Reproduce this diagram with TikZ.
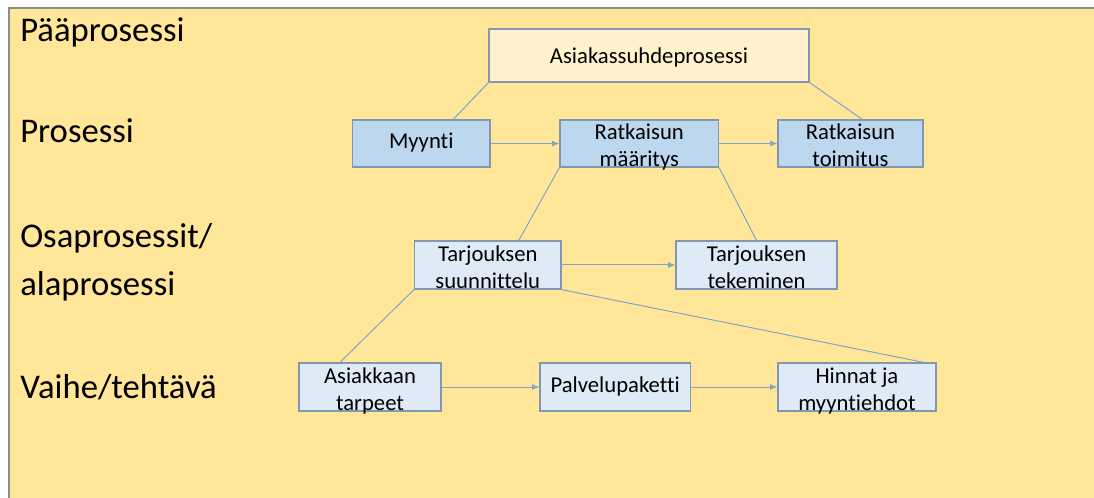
\documentclass[tikz,border=0pt]{standalone}
\usepackage{fontspec}
\setmainfont{Carlito}[Ligatures=NoCommon]
\usetikzlibrary{arrows.meta,calc}

\begin{document}
\begin{tikzpicture}[x=0.75pt,y=-0.75pt,
    levelname/.style={anchor=base west, inner sep=0pt, font=\fontsize{26}{30}\selectfont},
    procbox/.style={draw=boxframe, line width=0.9pt, inner sep=0pt, align=center,
        font=\fontsize{17}{20.3}\selectfont, text height=12pt, text depth=4.5pt},
    twoline/.style={text height=35.2pt, text depth=0pt},
    link/.style={draw=linkblue, line width=0.75pt},
    flow/.style={link, -{Latex[length=5.5pt,width=4.5pt]}}]
    \definecolor{slidebg}{HTML}{FFE699}
    \definecolor{slideframe}{HTML}{8C8C8C}
    \definecolor{boxframe}{HTML}{8497B0}
    \definecolor{linkblue}{HTML}{7FA6C8}
    \definecolor{mainfill}{HTML}{FFF2CC}
    \definecolor{procfill}{HTML}{BDD7EE}
    \definecolor{subfill}{HTML}{DEEBF7}

    \useasboundingbox (0,0) rectangle (1094,498);

    % Slide background
    \fill[slidebg] (9,8) rectangle (1094,498);
    \draw[slideframe, line width=1pt] (9,498) -- (9,8) -- (1094,8);

    % Level names
    \node[levelname] (lvl1) at (20,42) {Pääprosessi};
    \node[levelname] (lvl2) at (20,143) {Prosessi};
    \node[levelname] (lvl3) at (20,248) {Osaprosessit/};
    \node[levelname] (lvl3b) at (20,296) {alaprosessi};
    \node[levelname] (lvl4) at (20,398) {Vaihe/tehtävä};

    % Main process
    \node[procbox, fill=mainfill, minimum width=240pt, minimum height=39.75pt,
        text depth=0.4pt] (asiakas) at (649,55.5) {Asiakassuhdeprosessi};

    % Processes
    \node[procbox, fill=procfill, minimum width=103.1pt, minimum height=35.25pt]
        (myynti) at (421.25,143.5) {Myynti};
    \node[procbox, twoline, fill=procfill, minimum width=118.9pt, minimum height=35.25pt]
        (maaritys) at (639.25,143.5) {Ratkaisun\\määritys};
    \node[procbox, twoline, fill=procfill, minimum width=108.75pt, minimum height=35.25pt]
        (toimitus) at (850.5,143.5) {Ratkaisun\\toimitus};

    % Sub-processes
    \node[procbox, twoline, fill=subfill, minimum width=109.8pt, minimum height=36pt]
        (suunnittelu) at (487.8,265) {Tarjouksen\\suunnittelu};
    \node[procbox, twoline, fill=subfill, minimum width=120.75pt, minimum height=36pt]
        (tekeminen) at (756.5,265) {Tarjouksen\\tekeminen};

    % Steps
    \node[procbox, twoline, fill=subfill, minimum width=106.5pt, minimum height=36pt]
        (tarpeet) at (370,387) {Asiakkaan\\tarpeet};
    \node[procbox, fill=subfill, minimum width=112.9pt, minimum height=36pt]
        (paketti) at (615.25,387) {Palvelupaketti};
    \node[procbox, twoline, fill=subfill, minimum width=118.5pt, minimum height=36pt]
        (hinnat) at (857,387) {Hinnat ja\\myyntiehdot};

    % Hierarchy links
    \draw[link] (asiakas.south west) -- ($(myynti.north west)!0.73!(myynti.north east)$);
    \draw[link] (asiakas.south east) -- ($(toimitus.north west)!0.58!(toimitus.north east)$);
    \draw[link] (maaritys.south west) -- ($(suunnittelu.north west)!0.71!(suunnittelu.north east)$);
    \draw[link] (maaritys.south east) -- (tekeminen.north);
    \draw[link] (suunnittelu.south west) -- ($(tarpeet.north west)!0.29!(tarpeet.north east)$);
    \draw[link] (suunnittelu.south east) -- ($(hinnat.north west)!0.92!(hinnat.north east)$);

    % Flow arrows
    \draw[flow] (myynti) -- (maaritys);
    \draw[flow] (maaritys) -- (toimitus);
    \draw[flow] (suunnittelu) -- (tekeminen);
    \draw[flow] (tarpeet) -- (paketti);
    \draw[flow] (paketti) -- (hinnat);
\end{tikzpicture}
\end{document}
